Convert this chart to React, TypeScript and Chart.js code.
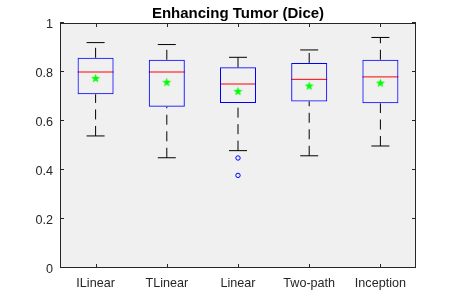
import React, { useEffect, useRef } from "react";
import { Chart, registerables } from "chart.js";

Chart.register(...registerables);

const categories = ["ILinear", "TLinear", "Linear", "Two-path", "Inception"];
const whiskerLow = [0.539, 0.45, 0.479, 0.458, 0.498];
const q1 = [0.709, 0.658, 0.673, 0.68, 0.672];
const medians = [0.8, 0.8, 0.751, 0.77, 0.78];
const q3 = [0.858, 0.85, 0.819, 0.837, 0.85];
const whiskerHigh = [0.92, 0.912, 0.86, 0.89, 0.941];
const means = [0.774, 0.758, 0.721, 0.743, 0.755];
const outlierCats = ["Linear", "Linear"];
const outlierVals = [0.449, 0.378];
const yTicks = [0, 0.2, 0.4, 0.6, 0.8, 1];
const titleText = "Enhancing Tumor (Dice)";

const FONT = "'Liberation Sans', Arial, sans-serif";
const AX = "#262626";

function makeStar(): HTMLCanvasElement {
  const c = document.createElement("canvas");
  c.width = 11;
  c.height = 11;
  const g = c.getContext("2d")!;
  const cx = 5.5, cy = 5.7, R = 4.8, r = 2.0;
  g.beginPath();
  for (let i = 0; i < 10; i++) {
    const ang = -Math.PI / 2 + (i * Math.PI) / 5;
    const rad = i % 2 === 0 ? R : r;
    const x = cx + rad * Math.cos(ang);
    const y = cy + rad * Math.sin(ang);
    if (i === 0) g.moveTo(x, y);
    else g.lineTo(x, y);
  }
  g.closePath();
  g.fillStyle = "#00ff00";
  g.fill();
  return c;
}

const boxPlugin = {
  id: "boxExtras",
  beforeDraw(chart: any) {
    const { ctx, chartArea: a } = chart;
    ctx.save();
    ctx.fillStyle = "#ffffff";
    ctx.fillRect(0, 0, chart.width, chart.height);
    ctx.fillStyle = "#f0f0f0";
    ctx.fillRect(a.left, a.top, a.right - a.left, a.bottom - a.top);
    ctx.restore();
  },
  beforeDatasetsDraw(chart: any) {
    const { ctx } = chart;
    const xs = chart.scales.x;
    const ys = chart.scales.y;
    ctx.save();
    categories.forEach((_c, i) => {
      const x = xs.getPixelForValue(i);
      // whiskers, drawn from the lower end upward
      ctx.strokeStyle = "#000000";
      ctx.lineWidth = 1;
      ctx.setLineDash([10, 6.5]);
      ctx.beginPath();
      ctx.moveTo(x, ys.getPixelForValue(q3[i]));
      ctx.lineTo(x, ys.getPixelForValue(whiskerHigh[i]));
      ctx.stroke();
      ctx.beginPath();
      ctx.moveTo(x, ys.getPixelForValue(whiskerLow[i]));
      ctx.lineTo(x, ys.getPixelForValue(q1[i]));
      ctx.stroke();
      ctx.setLineDash([]);
      // caps
      const hw = 9;
      [whiskerHigh[i], whiskerLow[i]].forEach((v) => {
        const y = ys.getPixelForValue(v);
        ctx.beginPath();
        ctx.moveTo(x - hw, y);
        ctx.lineTo(x + hw, y);
        ctx.stroke();
      });
      // median
      const meta = chart.getDatasetMeta(2);
      const bar = meta.data[i];
      const bw = bar ? bar.width : 36;
      const ym = ys.getPixelForValue(medians[i]);
      ctx.strokeStyle = "#ff0000";
      ctx.beginPath();
      ctx.moveTo(x - bw / 2, ym);
      ctx.lineTo(x + bw / 2, ym);
      ctx.stroke();
    });
    ctx.restore();
  },
  afterDraw(chart: any) {
    const { ctx, chartArea: a } = chart;
    const xs = chart.scales.x;
    const ys = chart.scales.y;
    ctx.save();
    ctx.strokeStyle = AX;
    ctx.lineWidth = 1;
    ctx.strokeRect(a.left + 0.5, a.top + 0.5, a.right - a.left - 1, a.bottom - a.top - 1);
    const tl = 4;
    ctx.beginPath();
    yTicks.forEach((v) => {
      const y = Math.round(ys.getPixelForValue(v)) - 0.5;
      ctx.moveTo(a.left, y);
      ctx.lineTo(a.left + tl, y);
      ctx.moveTo(a.right, y);
      ctx.lineTo(a.right - tl, y);
    });
    categories.forEach((_c, i) => {
      const x = Math.round(xs.getPixelForValue(i)) + 0.5;
      ctx.moveTo(x, a.bottom);
      ctx.lineTo(x, a.bottom - tl);
      ctx.moveTo(x, a.top);
      ctx.lineTo(x, a.top + tl);
    });
    ctx.stroke();
    // title
    ctx.fillStyle = "#000000";
    ctx.font = `bold 15px ${FONT}`;
    ctx.textAlign = "center";
    ctx.textBaseline = "alphabetic";
    ctx.fillText(titleText, (a.left + a.right) / 2, 17.5);
    ctx.restore();
  },
};

export default function App() {
  const ref = useRef<HTMLCanvasElement>(null);
  useEffect(() => {
    if (!ref.current) return;
    const star = makeStar();
    const chart = new Chart(ref.current, {
      type: "bar",
      data: {
        labels: categories,
        datasets: [
          {
            type: "line",
            data: means,
            showLine: false,
            pointStyle: star as any,
            pointRadius: 5,
            borderColor: "#00ff00",
            backgroundColor: "#00ff00",
          } as any,
          {
            type: "line",
            data: outlierCats.map((c, i) => ({ x: c, y: outlierVals[i] })),
            showLine: false,
            pointStyle: "circle",
            pointRadius: 2.2,
            pointBorderWidth: 1,
            borderColor: "#0000ff",
            backgroundColor: "rgba(0,0,0,0)",
          } as any,
          {
            type: "bar",
            data: categories.map((_c, i) => [q1[i], q3[i]]),
            backgroundColor: "rgba(0,0,0,0)",
            borderColor: "#0000ff",
            borderWidth: 1,
            borderSkipped: false,
            barPercentage: 0.506,
            categoryPercentage: 1,
          } as any,
        ],
      },
      options: {
        responsive: false,
        animation: false,
        layout: { padding: { top: 23, right: 44, left: 0, bottom: 0 } },
        plugins: {
          legend: { display: false },
          tooltip: { enabled: false },
          title: { display: false },
        },
        scales: {
          x: {
            type: "category",
            offset: true,
            grid: { display: false, drawTicks: false },
            border: { display: false },
            ticks: { color: AX, font: { family: FONT, size: 12.6 }, padding: 8, maxRotation: 0 },
            afterFit: (s: any) => {
              s.height = 34;
            },
          },
          y: {
            min: 0,
            max: 1,
            grid: { display: false, drawTicks: false },
            border: { display: false },
            ticks: {
              stepSize: 0.2,
              color: AX,
              font: { family: FONT, size: 12.6 },
              padding: 7,
              labelOffset: 1.5,
              callback: (v: any) => String(Number(Number(v).toFixed(1))),
            },
            afterFit: (s: any) => {
              s.width = 60;
            },
          },
        },
      } as any,
      plugins: [boxPlugin],
    });
    return () => chart.destroy();
  }, []);
  return (
    <div style={{ position: "fixed", left: 0, top: 0, width: 460, height: 302 }}>
      <canvas ref={ref} width={460} height={302} style={{ width: 460, height: 302 }} />
    </div>
  );
}
